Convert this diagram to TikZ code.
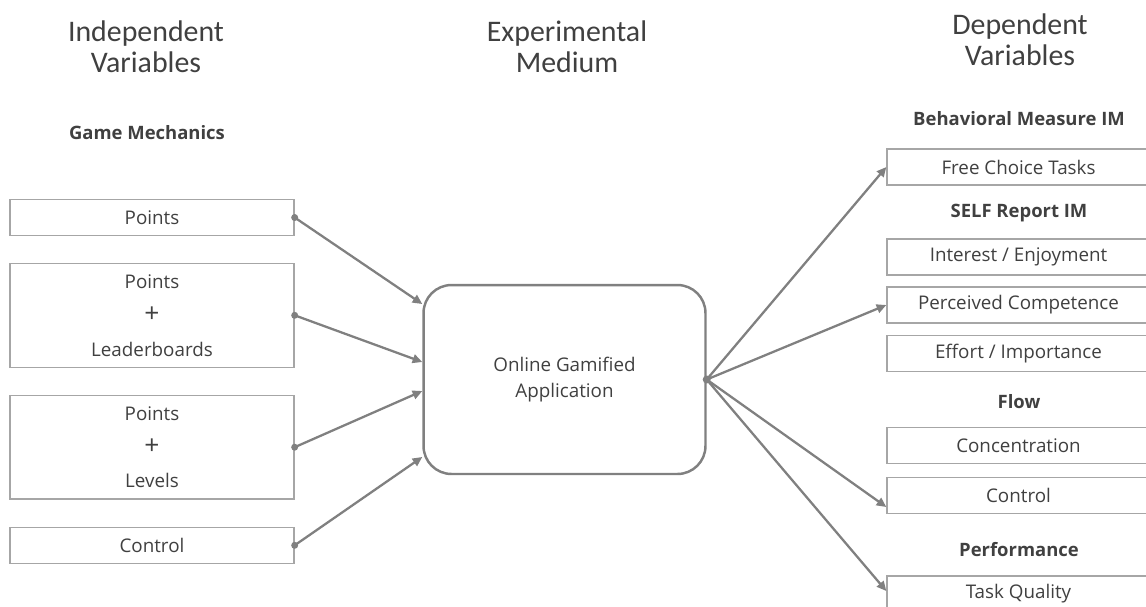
\documentclass[tikz,border=0pt]{standalone}
\usepackage{fontspec}
\setmainfont{Open Sans}
\newfontfamily\headfont{Carlito}
\usetikzlibrary{arrows.meta,positioning,calc}
\definecolor{BoxGray}{HTML}{A6A6A6}
\definecolor{LineGray}{HTML}{808080}
\definecolor{TextGray}{HTML}{404040}
\newcommand{\bigplus}{{\fontsize{15}{19.3}\selectfont +}}
\tikzset{
    % Box styles
    varbox/.style={
        rectangle,
        draw=BoxGray,
        line width=0.8pt,
        fill=white,
        minimum width=5.68cm,
        minimum height=0.72cm,
        inner sep=0pt,
        align=center,
        text=TextGray,
        font=\fontsize{10.7}{19.3}\selectfont
    },
    tallbox/.style={
        varbox,
        minimum height=2.08cm
    },
    depbox/.style={
        varbox,
        minimum width=5.26cm
    },
    mediumbox/.style={
        rectangle,
        rounded corners=0.56cm,
        draw=LineGray,
        line width=1.4pt,
        minimum width=5.64cm,
        minimum height=3.78cm,
        align=center,
        text=TextGray,
        font=\fontsize{10.7}{14.5}\selectfont
    },
    % Text styles
    heading/.style={
        align=center,
        text=TextGray,
        font=\headfont\fontsize{17}{17.5}\selectfont
    },
    grouplabel/.style={
        text=TextGray,
        font=\bfseries\fontsize{10.5}{12}\selectfont
    },
    % Arrow styles
    linkarrow/.style={
        -{Triangle[length=5.5pt,width=5pt]},
        draw=LineGray,
        line width=1.3pt
    }
}

\begin{document}
\begin{tikzpicture}[x=0.02cm,y=-0.02cm]
    \useasboundingbox (0,0) rectangle (1146,606);
    \clip (0,0) rectangle (1146,606);

    % Column titles
    \node[heading] (indep) at (146,47) {Independent\\Variables};
    \node[heading] (medium) at (567,47) {Experimental\\Medium};
    \node[heading] (dep) at (1020,40) {Dependent\\Variables};

    % Independent variables
    \node[grouplabel] (mech) at (147,133) {Game Mechanics};
    \node[varbox] (pts) at (152,217.5) {Points};
    \node[tallbox] (ptslead) at (152,315.3) {Points\\\bigplus\\Leaderboards};
    \node[tallbox] (ptslev) at (152,447.2) {Points\\\bigplus\\Levels};
    \node[varbox] (ctrl) at (152,545.3) {Control};

    % Experimental medium
    \node[mediumbox] (app) at (564.5,379.5) {Online Gamified\\Application};

    % Dependent variables
    \node[grouplabel] (behav) at (1019,119) {Behavioral Measure IM};
    \node[depbox] (free) at (1018.5,167) {Free Choice Tasks};
    \node[grouplabel] (self) at (1019,213) {SELF Report IM};
    \node[depbox] (interest) at (1018.5,257) {Interest / Enjoyment};
    \node[depbox] (compet) at (1018.5,305) {Perceived Competence};
    \node[depbox] (effort) at (1018.5,353.5) {Effort / Importance};
    \node[grouplabel] (flow) at (1019,401.7) {Flow};
    \node[depbox] (conc) at (1018.5,445.3) {Concentration};
    \node[depbox] (control) at (1018.5,495.5) {Control};
    \node[grouplabel] (perf) at (1019,550) {Performance};
    \node[depbox] (quality) at (1018.5,594) {Task Quality};

    % Inputs
    \draw[linkarrow] (pts.east) -- ([yshift=1.51cm]app.west);
    \draw[linkarrow] (ptslead.east) -- ([yshift=0.35cm]app.west);
    \draw[linkarrow] (ptslev.east) -- ([yshift=-0.23cm]app.west);
    \draw[linkarrow] (ctrl.east) -- ([yshift=-1.55cm]app.west);
    \foreach \n in {pts,ptslead,ptslev,ctrl}
        \fill[LineGray] (\n.east) circle (0.07cm);

    % Outputs
    \draw[linkarrow] (app.east) -- (free.west);
    \draw[linkarrow] (app.east) -- (compet.west);
    \draw[linkarrow] (app.east) -- ([yshift=-0.23cm]control.west);
    \draw[linkarrow] (app.east) -- ([yshift=0.06cm]quality.west);
    \fill[LineGray] (app.east) circle (0.08cm);
\end{tikzpicture}
\end{document}
